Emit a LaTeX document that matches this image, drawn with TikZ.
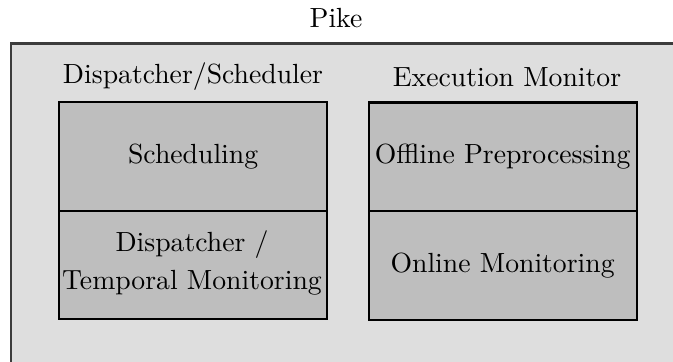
\documentclass[tikz,border=0pt]{standalone}
\definecolor{outerfill}{RGB}{222,222,222}
\definecolor{innerfill}{RGB}{190,190,190}
\definecolor{outerline}{RGB}{60,60,60}
\tikzset{
  part/.style={draw=black, line width=0.8pt, fill=innerfill, inner sep=0pt, align=center,
    minimum width=268*0.361pt, minimum height=108.5*0.361pt},
  heading/.style={inner sep=0pt, anchor=center},
}
\begin{document}
\begin{tikzpicture}[x=0.361pt, y=-0.361pt]
\useasboundingbox (0,0) rectangle (673,362);
\clip (0,0) rectangle (673,362);
\node[draw=outerline, line width=0.8pt, fill=outerfill, inner sep=0pt, minimum width=690*0.361pt, minimum height=340*0.361pt, anchor=north west] (pike) at (10,42.5) {};
\node[heading] (title) at (336,18) {Pike};
\node[heading] (h1) at (193,77) {Dispatcher/Scheduler};
\node[heading] (h2) at (507,77) {Execution Monitor};
\node[part, anchor=north west] (sched) at (58,101) {Scheduling};
\node[part, anchor=north west] (disp) at (58,209.5) {};
\node[align=center, inner sep=0pt, font=\linespread{1.12}\selectfont] (disptext) at (192,263) {Dispatcher /\\Temporal Monitoring};
\node[part, anchor=north west] (offline) at (367.5,101.5) {Offline Preprocessing};
\node[part, anchor=north west] (online) at (367.5,210) {Online Monitoring};
\end{tikzpicture}
\end{document}
